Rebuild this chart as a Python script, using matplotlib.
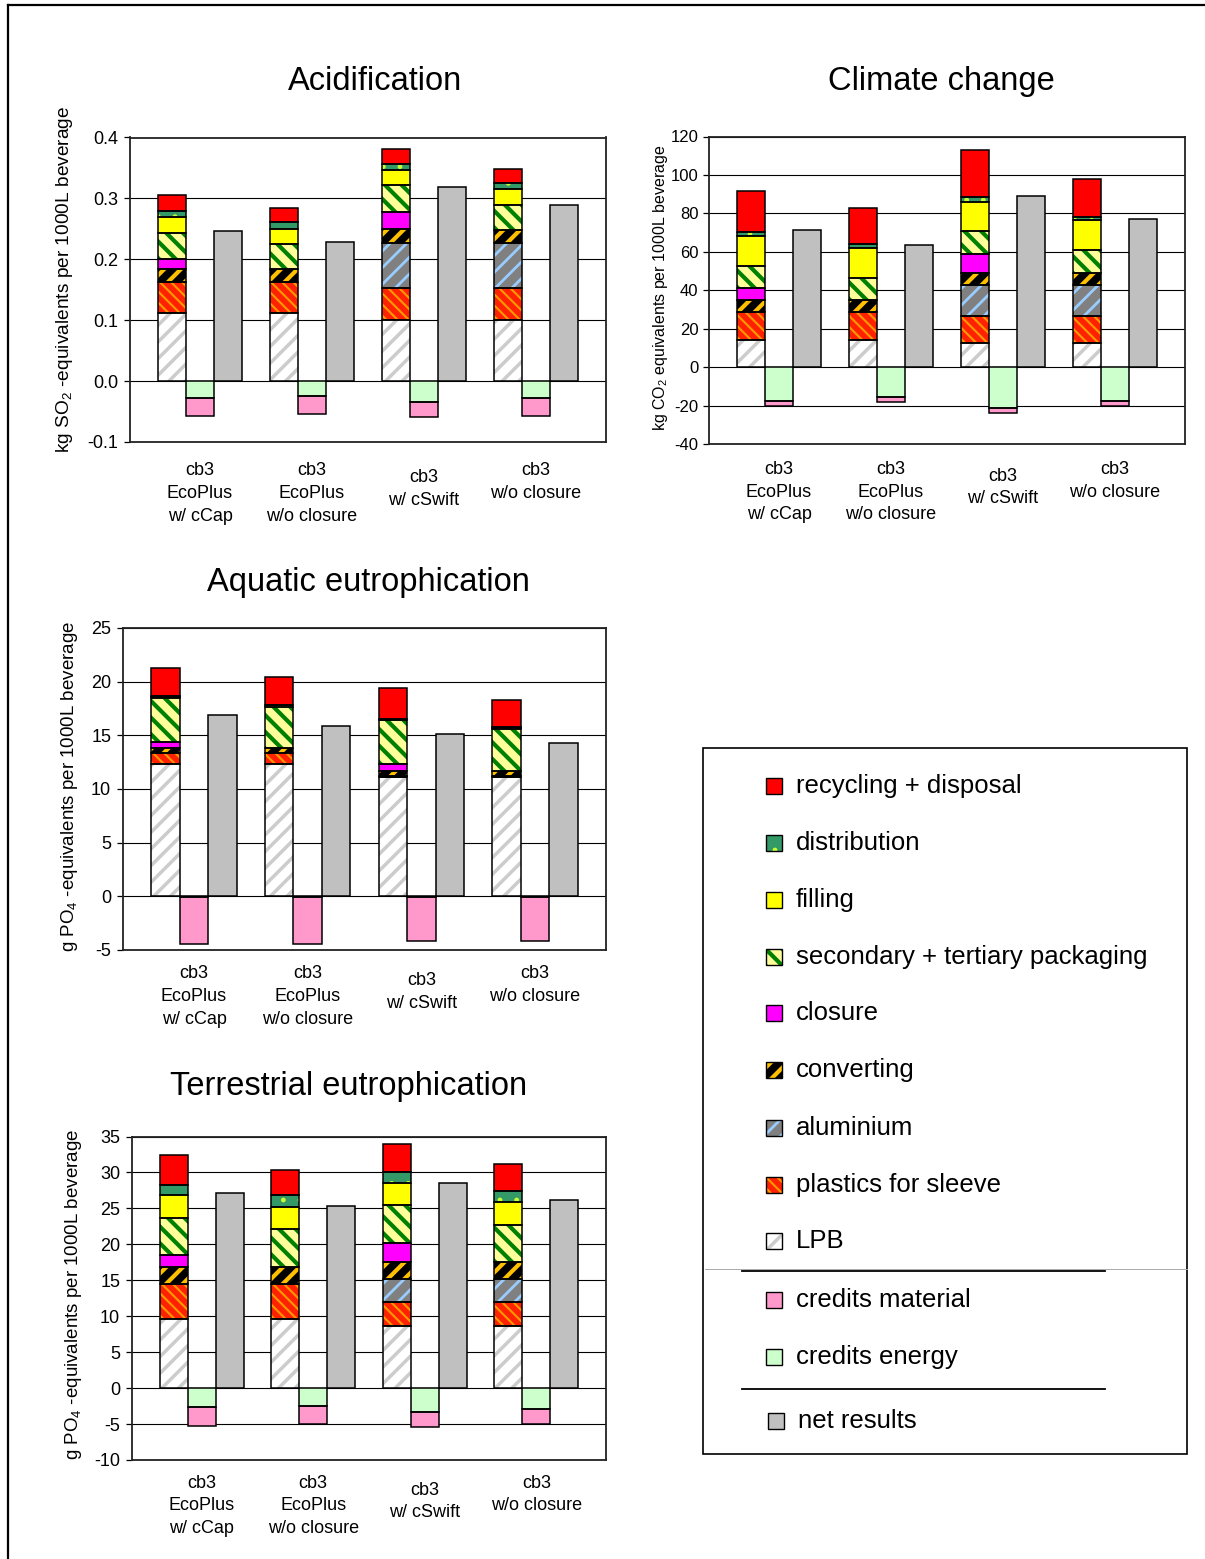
import matplotlib
matplotlib.use('Agg')
import matplotlib.pyplot as plt
from matplotlib.patches import Rectangle
from matplotlib.lines import Line2D
import numpy as np

plt.rcParams['font.family'] = ['Liberation Sans', 'DejaVu Sans']
plt.rcParams['mathtext.fontset'] = 'custom'
plt.rcParams['mathtext.rm'] = 'Liberation Sans'
plt.rcParams['mathtext.it'] = 'Liberation Sans:italic'

W, H, DPI = 1205, 1559, 100

# ---------------- data ----------------
SCENARIOS = ["cb3\nEcoPlus\nw/ cCap", "cb3\nEcoPlus\nw/o closure", "cb3\nw/ cSwift", "cb3\nw/o closure"]
STACK_ORDER = ["LPB", "plastics for sleeve", "aluminium", "converting", "closure",
               "secondary + tertiary packaging", "filling", "distribution", "recycling + disposal"]

# Acidification (kg SO2-eq)
ACID_LPB = [0.112, 0.112, 0.101, 0.101]
ACID_PLASTICS = [0.051, 0.051, 0.0525, 0.0525]
ACID_ALU = [0.0, 0.0, 0.074, 0.074]
ACID_CONVERTING = [0.021, 0.021, 0.022, 0.021]
ACID_CLOSURE = [0.016, 0.0, 0.028, 0.0]
ACID_SECTER = [0.044, 0.0415, 0.044, 0.041]
ACID_FILLING = [0.026, 0.025, 0.0257, 0.0257]
ACID_DISTRIB = [0.009, 0.010, 0.0087, 0.0093]
ACID_RECYCL = [0.026, 0.0235, 0.026, 0.024]
ACID_CRED_ENERGY = [-0.028, -0.025, -0.034, -0.028]
ACID_CRED_MAT = [-0.0295, -0.0295, -0.0257, -0.0295]
ACID_NET = [0.2465, 0.229, 0.3186, 0.2896]

# Climate change (kg CO2-eq)
CC_LPB = [14.2, 14.2, 12.6, 12.6]
CC_PLASTICS = [14.5, 14.5, 14.0, 14.0]
CC_ALU = [0.0, 0.0, 16.3, 16.3]
CC_CONVERTING = [6.4, 6.4, 6.2, 6.2]
CC_CLOSURE = [6.1, 0.0, 9.9, 0.0]
CC_SECTER = [11.6, 11.3, 11.6, 11.6]
CC_FILLING = [15.6, 15.6, 15.4, 15.6]
CC_DISTRIB = [2.1, 2.1, 2.4, 1.7]
CC_RECYCL = [21.3, 18.5, 24.4, 19.9]
CC_CRED_ENERGY = [-17.8, -15.6, -21.1, -17.8]
CC_CRED_MAT = [-2.6, -2.8, -2.9, -2.6]
CC_NET = [71.3, 63.5, 89.0, 76.9]

# Aquatic eutrophication (g PO4-eq)
AQ_LPB = [12.3, 12.3, 11.1, 11.1]
AQ_PLASTICS = [1.05, 1.05, 0.05, 0.05]
AQ_ALU = [0.0, 0.0, 0.1, 0.1]
AQ_CONVERTING = [0.43, 0.43, 0.45, 0.45]
AQ_CLOSURE = [0.6, 0.0, 0.6, 0.0]
AQ_SECTER = [4.1, 3.9, 4.1, 3.9]
AQ_FILLING = [0.1, 0.12, 0.06, 0.08]
AQ_DISTRIB = [0.05, 0.06, 0.04, 0.05]
AQ_RECYCL = [2.66, 2.6, 2.9, 2.6]
AQ_CRED_ENERGY = [-0.03, -0.03, -0.03, -0.03]
AQ_CRED_MAT = [-4.4, -4.4, -4.1, -4.1]
AQ_NET = [16.9, 15.9, 15.1, 14.3]

# Terrestrial eutrophication (g PO4-eq)
TE_LPB = [9.63, 9.63, 8.6, 8.6]
TE_PLASTICS = [4.84, 4.84, 3.44, 3.44]
TE_ALU = [0.0, 0.0, 3.16, 3.16]
TE_CONVERTING = [2.33, 2.33, 2.37, 2.33]
TE_CLOSURE = [1.67, 0.0, 2.65, 0.0]
TE_SECTER = [5.16, 5.4, 5.2, 5.16]
TE_FILLING = [3.2, 2.93, 3.16, 3.2]
TE_DISTRIB = [1.49, 1.77, 1.53, 1.49]
TE_RECYCL = [4.05, 3.49, 3.9, 3.77]
TE_CRED_ENERGY = [-2.65, -2.47, -3.26, -2.93]
TE_CRED_MAT = [-2.56, -2.51, -2.14, -2.05]
TE_NET = [27.2, 25.4, 28.6, 26.1]

# ---------------- styles ----------------
# face, hatch, hatch colour, hatch linewidth
STYLES = {
    "recycling + disposal": ("#ff0000", None, None, 0),
    "distribution": ("#339966", ".", "#ccff33", 1.0),
    "filling": ("#ffff00", None, None, 0),
    "secondary + tertiary packaging": ("#ffff99", "\\\\", "#008000", 3.0),
    "closure": ("#ff00ff", None, None, 0),
    "converting": ("#000000", "//", "#ffc000", 3.0),
    "aluminium": ("#808080", "//", "#99ccff", 2.0),
    "plastics for sleeve": ("#ff2200", "\\\\\\", "#ff9900", 1.5),
    "LPB": ("#ffffff", "//", "#cccccc", 2.5),
    "credits material": ("#ff99cc", None, None, 0),
    "credits energy": ("#ccffcc", None, None, 0),
    "net results": ("#c0c0c0", None, None, 0),
}
LEGEND_ORDER = ["recycling + disposal", "distribution", "filling", "secondary + tertiary packaging",
                "closure", "converting", "aluminium", "plastics for sleeve", "LPB",
                "credits material", "credits energy", "net results"]

EDGE_LW = 1.1


def draw_segment(ax, x, h, bottom, name):
    x = np.asarray(x, float); h = np.asarray(h, float); bottom = np.asarray(bottom, float)
    m = h != 0
    if not m.any():
        return
    face, hatch, hcol, hlw = STYLES[name]
    if hatch:
        with plt.rc_context({'hatch.linewidth': hlw}):
            bars = ax.bar(x[m], h[m], width=1.0, bottom=bottom[m], color=face,
                          edgecolor=hcol, linewidth=0, hatch=hatch, zorder=3)
        for b in bars:
            if hasattr(b, 'set_hatch_linewidth'):
                b.set_hatch_linewidth(hlw)
    else:
        ax.bar(x[m], h[m], width=1.0, bottom=bottom[m], color=face, linewidth=0, zorder=3)
    ax.bar(x[m], h[m], width=1.0, bottom=bottom[m], fill=False, edgecolor='black',
           linewidth=EDGE_LW, zorder=4)


fig = plt.figure(figsize=(W / DPI, H / DPI), dpi=DPI)


def px_axes(l, t, r, b):
    return fig.add_axes([l / W, 1 - b / H, (r - l) / W, (b - t) / H])


def make_chart(box, comps, cred_e, cred_m, net, ylim, yticks, fmt, tick_fs, label_off_pt, pad=4):
    ax = px_axes(*box)
    n = len(net)
    idx = np.arange(n)
    xs = idx * 4 + 1
    xc = idx * 4 + 2
    xn = idx * 4 + 3
    bottom = np.zeros(n)
    for name, vals in zip(STACK_ORDER, comps):
        v = np.asarray(vals, float)
        draw_segment(ax, xs, v, bottom, name)
        bottom = bottom + v
    ce = np.asarray(cred_e, float)
    cm = np.asarray(cred_m, float)
    draw_segment(ax, xc, ce, np.zeros(n), "credits energy")
    draw_segment(ax, xc, cm, ce, "credits material")
    draw_segment(ax, xn, net, np.zeros(n), "net results")

    ax.set_xlim(-0.5, 16.5)
    ax.set_ylim(*ylim)
    ax.set_yticks(yticks)
    ax.set_yticklabels([fmt.format(t) for t in yticks], fontsize=tick_fs)
    ax.set_xticks([])
    ax.yaxis.grid(True, color='black', linewidth=0.8)
    ax.set_axisbelow(True)
    ax.tick_params(axis='y', direction='out', length=4.5, width=0.9, pad=pad, colors='black')
    for s in ax.spines.values():
        s.set_linewidth(1.3)
        s.set_color('#222222')
    for i, lab in enumerate(SCENARIOS):
        extra = 5.0 if (i == 2) else 0.0
        ax.annotate(lab, xy=(xc[i], 0), xycoords=('data', 'axes fraction'),
                    xytext=(0, -label_off_pt - extra), textcoords='offset points',
                    ha='center', va='top', fontsize=13, linespacing=1.45)
    return ax


acid = make_chart((130, 137.5, 606, 442),
                  [ACID_LPB, ACID_PLASTICS, ACID_ALU, ACID_CONVERTING, ACID_CLOSURE,
                   ACID_SECTER, ACID_FILLING, ACID_DISTRIB, ACID_RECYCL],
                  ACID_CRED_ENERGY, ACID_CRED_MAT, ACID_NET,
                  (-0.1, 0.4), [-0.1, 0.0, 0.1, 0.2, 0.3, 0.4], "{:.1f}", 13, 14.5)
clim = make_chart((709, 136.5, 1185, 444),
                  [CC_LPB, CC_PLASTICS, CC_ALU, CC_CONVERTING, CC_CLOSURE,
                   CC_SECTER, CC_FILLING, CC_DISTRIB, CC_RECYCL],
                  CC_CRED_ENERGY, CC_CRED_MAT, CC_NET,
                  (-40, 120), list(range(-40, 121, 20)), "{:d}", 12, 12.0, pad=3)
aqua = make_chart((123, 628, 606, 950),
                  [AQ_LPB, AQ_PLASTICS, AQ_ALU, AQ_CONVERTING, AQ_CLOSURE,
                   AQ_SECTER, AQ_FILLING, AQ_DISTRIB, AQ_RECYCL],
                  AQ_CRED_ENERGY, AQ_CRED_MAT, AQ_NET,
                  (-5, 25), list(range(-5, 26, 5)), "{:d}", 13, 11.0)
terr = make_chart((132, 1136.5, 606, 1460),
                  [TE_LPB, TE_PLASTICS, TE_ALU, TE_CONVERTING, TE_CLOSURE,
                   TE_SECTER, TE_FILLING, TE_DISTRIB, TE_RECYCL],
                  TE_CRED_ENERGY, TE_CRED_MAT, TE_NET,
                  (-10, 35), list(range(-10, 36, 5)), "{:d}", 13, 10.5)

# ---------------- overlay (titles, labels, legend, frame) ----------------
ov = fig.add_axes([0, 0, 1, 1])
ov.set_xlim(0, W)
ov.set_ylim(H, 0)
ov.axis('off')
ov.patch.set_alpha(0)

TITLES = [("Acidification", 375, 81), ("Climate change", 941, 81),
          ("Aquatic eutrophication", 368, 582), ("Terrestrial eutrophication", 349, 1087)]
for t, x, y in TITLES:
    ov.text(x, y, t, ha='center', va='center', fontsize=23.5)

YLABELS = [("kg SO$_{2}$ -equivalents per 1000L beverage", 65, 279, 13.8),
           ("kg CO$_{2}$ equivalents per 1000L beverage", 660, 288, 11.5),
           ("g PO$_{4}$ -equivalents per 1000L beverage", 70, 786, 13.5),
           ("g PO$_{4}$ -equivalents per 1000L beverage", 74, 1294, 13.5)]
for t, x, y, fs in YLABELS:
    ov.text(x, y, t, ha='center', va='center', rotation=90, fontsize=fs)

# outer frame (left + top)
ov.add_line(Line2D([8, 8], [4.5, H + 5], color='black', linewidth=1.6))
ov.add_line(Line2D([8, W + 5], [4.5, 4.5], color='black', linewidth=1.6))

# legend box
ov.add_patch(Rectangle((703, 748), 484, 706, fill=False, edgecolor='black', linewidth=1.2))
ov.add_line(Line2D([705, 1187], [1269.3, 1269.3], color='#aaaaaa', linewidth=0.7))
ov.add_line(Line2D([742, 1105], [1271, 1271], color='black', linewidth=1.3))
ov.add_line(Line2D([742, 1105], [1389, 1389], color='black', linewidth=1.3))

LEG_Y = [786, 843, 900, 957, 1013, 1070, 1128, 1185, 1241, 1300, 1357, 1421]
for name, y in zip(LEGEND_ORDER, LEG_Y):
    face, hatch, hcol, hlw = STYLES[name]
    mx = 766 if name != "net results" else 768
    tx = 796 if name != "net results" else 798
    if hatch:
        with plt.rc_context({'hatch.linewidth': hlw}):
            p = Rectangle((mx, y - 8.5), 16, 16, facecolor=face, edgecolor=hcol,
                          linewidth=0, hatch=hatch)
        if hasattr(p, 'set_hatch_linewidth'):
            p.set_hatch_linewidth(hlw)
        ov.add_patch(p)
    else:
        ov.add_patch(Rectangle((mx, y - 8.5), 16, 16, facecolor=face, linewidth=0))
    ov.add_patch(Rectangle((mx, y - 8.5), 16, 16, fill=False, edgecolor='black', linewidth=1.0))
    ov.text(tx, y, name, ha='left', va='center', fontsize=18.5)

fig.savefig("out.png", dpi=DPI)
